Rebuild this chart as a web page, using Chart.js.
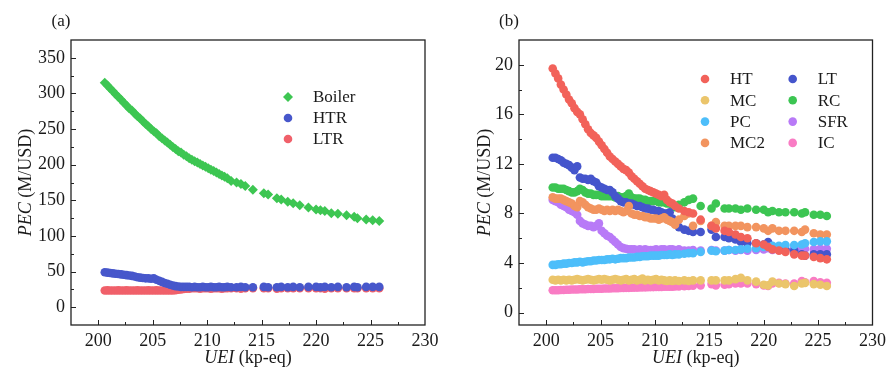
<!DOCTYPE html>
<html>
<head>
<meta charset="utf-8">
<script src="https://cdn.jsdelivr.net/npm/chart.js@4.4.1/dist/chart.umd.min.js"></script>
<style>
html, body { margin: 0; padding: 0; background: #fff; }
#wrap { position: relative; width: 891px; height: 367px; }
.panel { position: absolute; top: 0; }
#panelA { left: 0; }
#panelB { left: 445px; }
</style>
</head>
<body>
<div id="wrap">
  <div class="panel" id="panelA"><canvas id="chartA" width="445" height="367"></canvas></div>
  <div class="panel" id="panelB"><canvas id="chartB" width="446" height="367"></canvas></div>
</div>
<script>
// UEI of each Pareto solution (kp-eq), shared by all component series
const uei = [
  200.60, 200.85, 201.10, 201.35, 201.60, 201.85, 202.10, 202.35, 202.60, 202.85,
  203.10, 203.35, 203.60, 203.85, 204.10, 204.35, 204.60, 204.85, 205.10, 205.35,
  205.60, 205.85, 206.10, 206.35, 206.60, 206.85, 207.10, 207.35, 207.60, 207.85,
  208.10, 208.35, 208.60, 208.85, 209.10, 209.35, 209.60, 209.85, 210.10, 210.35,
  210.60, 210.85, 211.10, 211.35, 211.60, 211.85, 212.20, 212.70, 213.10, 213.50,
  214.20, 215.20, 215.60, 216.40, 216.80, 217.40, 217.90, 218.50, 219.30, 220.00,
  220.40, 220.80, 221.40, 222.00, 222.80, 223.50, 223.80, 224.60, 225.20, 225.80
];

// (a) heat exchange equipment, PEC in M/USD
const boiler = [
  315, 311, 307, 303, 299, 295, 291, 287, 283, 279,
  276, 272, 268, 265, 261, 257, 254, 250, 247, 244,
  240, 237, 234, 231, 228, 225, 222, 219, 217, 214,
  212, 209, 207, 205, 203, 201, 199, 197, 195, 193,
  191, 189, 187, 185, 183, 181, 177, 175, 173, 170,
  165, 160, 158, 153, 151, 148, 146, 143, 140, 137,
  136, 135, 132, 131, 129, 127, 125, 123, 122, 121
];
const htr = [
  49, 48.5, 48, 47.5, 47, 46.5, 46, 45.5, 45, 44.5,
  44, 43, 42, 41.5, 41, 40.5, 40.5, 40, 40.5, 38.5,
  37, 35.5, 34, 33, 31.5, 30.5, 29.5, 29, 28.5, 28.5,
  28.5, 28.5, 28, 28.5, 28, 28, 28.5, 28, 28, 28.5,
  28, 28, 28.5, 28, 28, 28.5, 28, 28, 28.5, 28,
  28, 28.5, 28, 28, 28.5, 28, 28.5, 28, 28.5, 28.5,
  28, 28.5, 28, 28.5, 28, 28.5, 28, 28.5, 28.5, 28.5
];
const ltr = [
  23.5, 23.6, 23.4, 23.5, 23.5, 23.6, 23.4, 23.5, 23.6, 23.5,
  23.4, 23.5, 23.6, 23.5, 23.5, 23.4, 23.6, 23.5, 23.5, 23.6,
  23.5, 23.4, 23.5, 23.6, 23.5, 23.5, 24, 24.5, 25, 25.5,
  26, 26, 26.5, 26.5, 26.5, 26, 26.5, 26.5, 26.5, 26,
  26.5, 26.5, 26.5, 26, 26.5, 26.5, 26.5, 26.5, 26, 26.5,
  26.5, 26.5, 26.5, 26, 26.5, 26.5, 26.5, 26.5, 26.5, 26.5,
  26.5, 26, 26.5, 26.5, 26.5, 26.5, 26.5, 26.5, 26.5, 26.5
];

// (b) turbomachinery and coolers, PEC in M/USD
const ht = [
  19.7, 19.3, 18.9, 18.4, 18.0, 17.6, 17.2, 16.9, 16.5, 16.2,
  16.0, 15.6, 15.2, 14.8, 14.5, 14.3, 14.1, 13.8, 13.5, 13.2,
  12.9, 12.6, 12.4, 12.2, 12.0, 11.8, 11.6, 11.5, 11.3, 11.0,
  10.8, 10.6, 10.4, 10.2, 10.0, 9.9, 9.8, 9.7, 9.6, 9.5,
  9.4, 9.5, 9.1, 8.9, 8.8, 8.6, 8.4, 8.2, 8.1, 8.0,
  7.5, 7.0, 6.8, 6.6, 6.5, 6.3, 6.1, 6.0, 5.6, 5.5,
  5.3, 5.1, 5.0, 4.9, 4.7, 4.6, 4.6, 4.5, 4.4, 4.3
];
const mc = [
  2.65, 2.6, 2.65, 2.6, 2.65, 2.6, 2.65, 2.6, 2.65, 2.7,
  2.65, 2.6, 2.65, 2.7, 2.65, 2.6, 2.65, 2.7, 2.65, 2.7,
  2.65, 2.6, 2.65, 2.7, 2.65, 2.6, 2.65, 2.7, 2.6, 2.65,
  2.7, 2.6, 2.65, 2.75, 2.6, 2.65, 2.6, 2.65, 2.7, 2.6,
  2.65, 2.6, 2.55, 2.6, 2.55, 2.6, 2.55, 2.6, 2.55, 2.6,
  2.6, 2.6, 2.6, 2.6, 2.6, 2.7, 2.8, 2.6, 2.5, 2.25,
  2.2, 2.5, 2.35, 2.3, 2.15, 2.35, 2.4, 2.3, 2.25, 2.15
];
const pc = [
  3.85, 3.85, 3.9, 3.9, 3.95, 3.95, 4.0, 4.0, 4.05, 4.05,
  4.1, 4.05, 4.1, 4.15, 4.15, 4.2, 4.2, 4.25, 4.25, 4.25,
  4.3, 4.3, 4.35, 4.3, 4.35, 4.4, 4.4, 4.4, 4.45, 4.45,
  4.45, 4.5, 4.5, 4.55, 4.55, 4.55, 4.6, 4.6, 4.6, 4.6,
  4.65, 4.65, 4.65, 4.7, 4.65, 4.7, 4.7, 4.75, 4.8, 4.8,
  4.9, 5.0, 4.95, 5.0, 5.05, 5.05, 5.1, 5.15, 5.2, 5.3,
  5.3, 5.4, 5.4, 5.45, 5.45, 5.5, 5.6, 5.7, 5.75, 5.75
];
const mc2 = [
  9.3, 9.2, 9.2, 9.2, 9.1, 9.0, 8.9, 8.8, 8.6, 8.5,
  9.0, 8.9, 8.7, 8.5, 8.4, 8.3, 8.3, 8.4, 8.3, 8.2,
  8.3, 8.2, 8.3, 8.2, 8.3, 8.2, 8.1, 8.2, 8.6, 8.0,
  7.9, 7.9, 7.8, 7.8, 7.7, 7.7, 7.6, 7.6, 7.6, 7.5,
  7.6, 7.7, 7.5, 7.4, 7.3, 7.1, 7.5, 7.8, 8.0, 7.0,
  7.4, 7.0, 7.3, 7.0, 7.0, 7.0, 7.0, 6.9, 6.9, 6.8,
  6.6, 6.8, 6.6, 6.6, 6.6, 6.5, 6.7, 6.4, 6.3, 6.3
];
const lt = [
  12.5, 12.5, 12.4, 12.3, 12.1, 12.0, 11.9, 11.7, 11.5, 11.8,
  10.9, 10.8, 10.8, 10.7, 10.8, 10.6, 10.5, 10.2, 10.1, 10.0,
  9.9, 9.9, 9.7, 9.4, 9.2, 9.0, 8.9, 8.9, 8.8, 8.8,
  8.7, 8.6, 8.6, 8.5, 8.4, 8.4, 8.3, 8.3, 8.2, 8.2,
  8.1, 8.0, 8.0, 8.1, 7.6, 7.2, 6.9, 6.7, 6.6, 6.5,
  6.5, 6.7, 6.1, 6.1, 6.0, 5.9, 5.7, 5.6, 5.6, 5.5,
  5.7, 5.3, 5.2, 5.1, 5.0, 4.7, 4.6, 4.7, 4.7, 4.7
];
const rc = [
  10.1, 10.1, 10.0, 10.0, 10.0, 9.9, 9.8, 9.7, 9.7, 9.8,
  10.0, 9.9, 9.7, 9.6, 9.6, 9.5, 9.5, 9.5, 9.4, 9.4,
  9.4, 9.4, 9.4, 9.3, 9.4, 9.3, 9.3, 9.4, 9.6, 9.3,
  9.2, 9.2, 9.2, 9.1, 9.1, 9.0, 9.0, 9.0, 9.1, 8.9,
  8.9, 8.9, 8.8, 8.8, 8.7, 8.5, 8.7, 8.9, 9.1, 9.2,
  8.6, 8.4, 8.8, 8.4, 8.4, 8.4, 8.3, 8.4, 8.3, 8.3,
  8.1, 8.2, 8.1, 8.1, 8.1, 8.0, 8.1, 7.9, 7.9, 7.8
];
const sfr = [
  9.1, 9.0, 8.9, 8.7, 8.6, 8.5, 8.3, 8.2, 8.1, 7.9,
  7.4, 7.2, 7.1, 7.0, 7.0, 6.9, 7.0, 7.2, 6.6, 6.4,
  6.2, 6.1, 5.9, 5.7, 5.5, 5.3, 5.2, 5.15, 5.1, 5.1,
  5.1, 5.05, 5.1, 5.05, 5.1, 5.05, 5.05, 5.05, 5.1, 5.05,
  5.1, 5.1, 5.05, 5.1, 5.1, 5.05, 5.1, 5.0, 5.0, 5.05,
  5.0, 5.05, 5.0, 5.0, 5.05, 5.0, 5.05, 5.0, 5.05, 5.1,
  5.2, 5.05, 5.1, 5.05, 5.2, 5.1, 5.15, 5.1, 5.15, 5.15
];
const ic = [
  1.8, 1.8, 1.8, 1.82, 1.83, 1.84, 1.85, 1.86, 1.86, 1.87,
  1.88, 1.88, 1.89, 1.9, 1.9, 1.91, 1.92, 1.92, 1.93, 1.94,
  1.95, 1.95, 1.96, 1.97, 1.97, 1.98, 1.99, 2.0, 2.0, 2.01,
  2.02, 2.02, 2.03, 2.04, 2.04, 2.05, 2.06, 2.06, 2.07, 2.08,
  2.08, 2.09, 2.1, 2.1, 2.1, 2.12, 2.12, 2.14, 2.15, 2.18,
  2.2, 2.3, 2.2, 2.25, 2.3, 2.35, 2.35, 2.35, 2.3, 2.2,
  2.15, 2.35, 2.4, 2.35, 2.35, 2.55, 2.45, 2.55, 2.45, 2.4
];

// axis ticks
const xTicks = [200, 205, 210, 215, 220, 225, 230];
const yTicksA = [0, 50, 100, 150, 200, 250, 300, 350];
const yTicksB = [0, 4, 8, 12, 16, 20];

const SERIF = '"Liberation Serif", "Times New Roman", serif';
const INK = '#1a1a1a';
Chart.defaults.font.family = SERIF;
Chart.defaults.color = INK;

// draws text made of italic / upright runs, centred on (cx, cy)
function drawRuns(ctx, runs, cx, cy, size) {
    const fontOf = r => (r.italic ? 'italic ' : '') + size + 'px ' + SERIF;
    let total = 0;
    runs.forEach(r => { ctx.font = fontOf(r); total += ctx.measureText(r.text).width; });
    let x = cx - total / 2;
    ctx.textAlign = 'left';
    ctx.textBaseline = 'middle';
    runs.forEach(r => {
        ctx.font = fontOf(r);
        ctx.fillText(r.text, x, cy);
        x += ctx.measureText(r.text).width;
    });
}

// frame, inward ticks, axis titles, panel tag and the in-plot legend
const panelDecor = {
    id: 'panelDecor',
    afterDraw(chart, args, opts) {
        const {ctx, chartArea: a} = chart;
        const sx = chart.scales.x, sy = chart.scales.y;
        ctx.save();
        ctx.fillStyle = INK;
        ctx.strokeStyle = '#222';

        ctx.lineWidth = 1;
        ctx.beginPath();
        const xs = opts.xTicks, ys = opts.yTicks;
        xs.forEach((v, i) => {
            const px = Math.round(sx.getPixelForValue(v)) + 0.5;
            if (px > a.left + 1 && px < a.right - 1) {
                ctx.moveTo(px, a.bottom); ctx.lineTo(px, a.bottom - 5);
            }
            if (i < xs.length - 1) {
                const m = Math.round(sx.getPixelForValue((v + xs[i + 1]) / 2)) + 0.5;
                ctx.moveTo(m, a.bottom); ctx.lineTo(m, a.bottom - 3);
            }
        });
        ys.forEach((v, i) => {
            const py = Math.round(sy.getPixelForValue(v)) + 0.5;
            ctx.moveTo(a.left, py); ctx.lineTo(a.left + 5, py);
            if (i < ys.length - 1) {
                const m = Math.round(sy.getPixelForValue((v + ys[i + 1]) / 2)) + 0.5;
                ctx.moveTo(a.left, m); ctx.lineTo(a.left + 3, m);
            }
        });
        ctx.stroke();

        ctx.lineWidth = 1.3;
        ctx.strokeRect(a.left, a.top, a.right - a.left, a.bottom - a.top);

        // axis titles
        drawRuns(ctx, [{text: 'UEI', italic: true}, {text: ' (kp-eq)'}], (a.left + a.right) / 2, 358, 18);
        ctx.save();
        ctx.translate(opts.yTitleX, (a.top + a.bottom) / 2);
        ctx.rotate(-Math.PI / 2);
        drawRuns(ctx, [{text: 'PEC', italic: true}, {text: ' (M/USD)'}], 0, 0, 18);
        ctx.restore();

        // panel tag
        ctx.font = '17px ' + SERIF;
        ctx.textAlign = 'center';
        ctx.textBaseline = 'middle';
        ctx.fillText(opts.tag, opts.tagX, 22);

        // legend, column by column
        const lg = opts.legend;
        chart.data.datasets.forEach((ds, i) => {
            const col = Math.floor(i / lg.rows), row = i % lg.rows;
            const mx = lg.x + col * lg.colW;
            const my = lg.y + row * lg.rowH;
            ctx.fillStyle = ds.pointBackgroundColor;
            ctx.strokeStyle = ds.pointBackgroundColor;
            Chart.helpers.drawPoint(ctx, {pointStyle: ds.pointStyle, radius: ds.pointRadius, rotation: 0, borderWidth: 0}, mx, my);
            ctx.fillStyle = INK;
            ctx.font = '17px ' + SERIF;
            ctx.textAlign = 'left';
            ctx.textBaseline = 'middle';
            ctx.fillText(ds.label, mx + lg.textDx, my + 1);
        });
        ctx.restore();
    }
};

function makePanel(canvasId, cfg) {
    const tickFont = {family: SERIF, size: 18};
    return new Chart(document.getElementById(canvasId), {
        type: 'scatter',
        data: {
            datasets: cfg.series.map(s => ({
                label: s.label,
                data: uei.map((u, i) => ({x: u, y: s.values[i]})),
                pointStyle: s.shape || 'circle',
                pointRadius: s.radius || 4.3,
                pointHoverRadius: s.radius || 4.3,
                pointBackgroundColor: s.color,
                pointBorderColor: s.color,
                pointBorderWidth: 0,
                backgroundColor: s.color
            }))
        },
        options: {
            responsive: false,
            animation: false,
            events: [],
            layout: {padding: {left: 0, right: cfg.padRight, top: 40, bottom: 0}},
            plugins: {
                legend: {display: false},
                tooltip: {enabled: false},
                panelDecor: {
                    xTicks: xTicks,
                    yTicks: cfg.yTicks,
                    yTitleX: cfg.yTitleX,
                    tag: cfg.tag,
                    tagX: cfg.tagX,
                    legend: cfg.legend
                }
            },
            scales: {
                x: {
                    type: 'linear',
                    min: 197.5,
                    max: 230,
                    afterBuildTicks: s => { s.ticks = xTicks.map(v => ({value: v})); },
                    afterFit: s => { s.height = 42; },
                    grid: {display: false, drawTicks: false},
                    border: {display: false},
                    ticks: {font: tickFont, color: INK, padding: 5, maxRotation: 0, autoSkip: false}
                },
                y: {
                    type: 'linear',
                    min: cfg.yMin,
                    max: cfg.yMax,
                    afterBuildTicks: s => { s.ticks = cfg.yTicks.map(v => ({value: v})); },
                    afterFit: s => { s.width = cfg.left; },
                    grid: {display: false, drawTicks: false},
                    border: {display: false},
                    ticks: {font: tickFont, color: INK, padding: 6, autoSkip: false}
                }
            }
        },
        plugins: [panelDecor]
    });
}

makePanel('chartA', {
    left: 71, padRight: 20,
    yMin: -25, yMax: 375, yTicks: yTicksA,
    yTitleX: 26, tag: '(a)', tagX: 61,
    legend: {x: 288, y: 97, rowH: 21, colW: 0, rows: 3, textDx: 25},
    series: [
        {label: 'Boiler', values: boiler, color: '#3dc652', shape: 'rectRot', radius: 5},
        {label: 'HTR', values: htr, color: '#4757cb'},
        {label: 'LTR', values: ltr, color: '#f0606a'}
    ]
});

makePanel('chartB', {
    left: 74, padRight: 18,
    yMin: -1, yMax: 22, yTicks: yTicksB,
    yTitleX: 40, tag: '(b)', tagX: 64,
    legend: {x: 260, y: 79, rowH: 21.3, colW: 87.7, rows: 4, textDx: 25},
    series: [
        {label: 'HT', values: ht, color: '#f2625a'},
        {label: 'MC', values: mc, color: '#ebc56b'},
        {label: 'PC', values: pc, color: '#4dbefa'},
        {label: 'MC2', values: mc2, color: '#f2945f'},
        {label: 'LT', values: lt, color: '#4555cc'},
        {label: 'RC', values: rc, color: '#3cc552'},
        {label: 'SFR', values: sfr, color: '#b87af7'},
        {label: 'IC', values: ic, color: '#f97cc4'}
    ]
});
</script>
</body>
</html>
